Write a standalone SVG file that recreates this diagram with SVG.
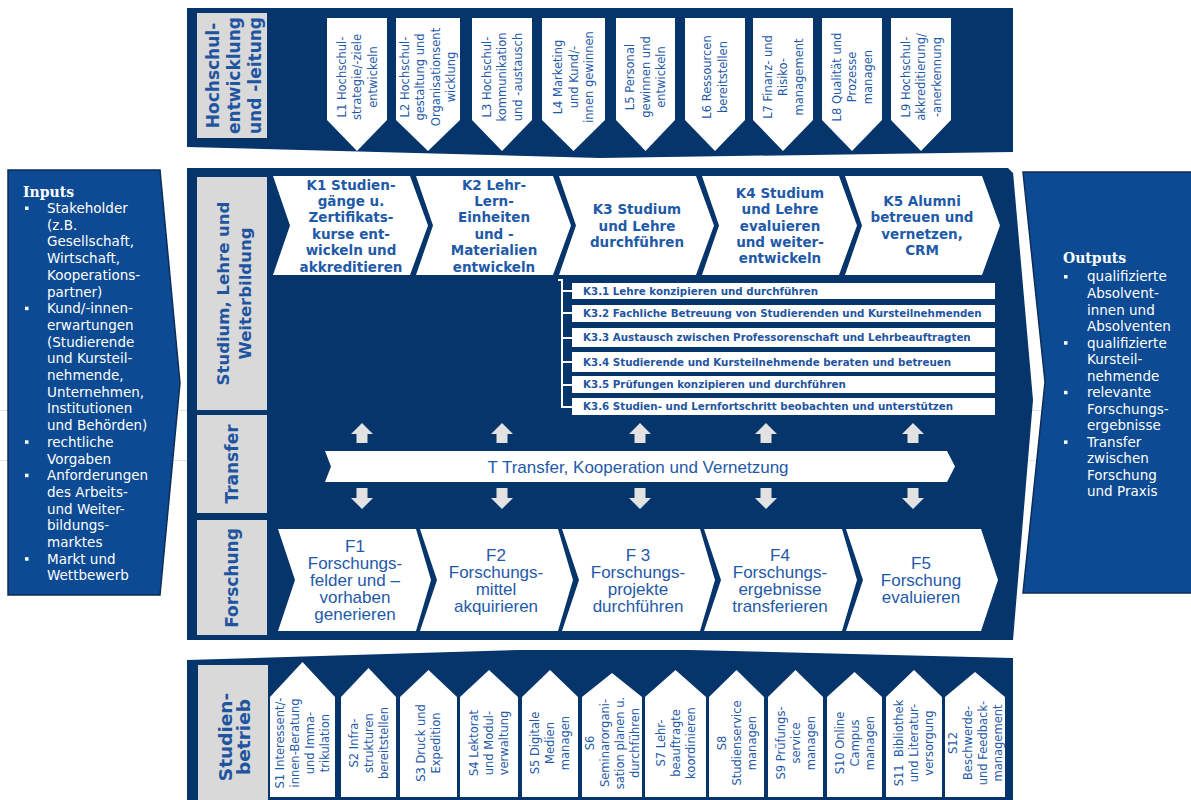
<svg xmlns="http://www.w3.org/2000/svg" width="1191" height="800" viewBox="0 0 1191 800">
<style>
.band{fill:#06356b}
.io{fill:#0c4a93;stroke:#0e2d57;stroke-width:1.5}
.gray{fill:#d9d9d9}
.wb{fill:#ffffff}
.arr{fill:#e2e2e2}
.lbl{font-family:"DejaVu Sans",Verdana,sans-serif;font-weight:bold;fill:#1f55a0;text-anchor:middle}
.sm{font-family:"DejaVu Sans",Verdana,sans-serif;font-size:11.5px;fill:#1f5aa8;text-anchor:middle}
.k{font-family:"DejaVu Sans",Verdana,sans-serif;font-weight:bold;font-size:13.5px;fill:#1f5aa8;text-anchor:middle}
.k3{font-family:"DejaVu Sans",Verdana,sans-serif;font-weight:bold;font-size:10.3px;fill:#1f55a0}
.f{font-family:"Liberation Sans",Arial,sans-serif;font-size:17px;fill:#1f5aa8;text-anchor:middle}
.iot{font-family:"DejaVu Sans",Verdana,sans-serif;font-size:13.5px;fill:#ffffff}
.ioh{font-family:"DejaVu Serif",Georgia,serif;font-weight:bold;font-size:14px;fill:#ffffff}
.bul{fill:#ffffff}
</style>
<rect x="0" y="0" width="1191" height="800" fill="#ffffff"/>
<line x1="0" y1="410.5" x2="1191" y2="410.5" stroke="#e3e3e3" stroke-width="1"/>
<line x1="0" y1="460.5" x2="1191" y2="460.5" stroke="#e3e3e3" stroke-width="1"/>

<!-- bands -->
<g id="band-top">
<polygon class="band" points="187,8 1013,8 1013,152 600,158 187,147"/>
<rect class="gray" x="197" y="13" width="70" height="125"/>
<text class="lbl" font-size="17" transform="translate(234,75.5) rotate(-90)"><tspan x="0" y="-15">Hochschul-</tspan><tspan x="0" y="6">entwicklung</tspan><tspan x="0" y="27">und -leitung</tspan></text>
</g>
<g id="band-main">
<polygon class="band" points="187,168 1008,168 1013,173 1013,172 1033,400 1013,640 187,640"/>
<rect class="gray" x="197" y="177" width="70" height="233"/>
<text class="lbl" font-size="16.5" transform="translate(234,293.5) rotate(-90)"><tspan x="0" y="-5">Studium, Lehre und</tspan><tspan x="0" y="17">Weiterbildung</tspan></text>
<rect class="gray" x="197" y="415" width="70" height="98"/>
<text class="lbl" font-size="17" transform="translate(232,464) rotate(-90)"><tspan x="0" y="6">Transfer</tspan></text>
<rect class="gray" x="197" y="520" width="70" height="115"/>
<text class="lbl" font-size="17" transform="translate(232,578) rotate(-90)"><tspan x="0" y="6">Forschung</tspan></text>
</g>
<g id="band-bottom">
<polygon class="band" points="187,660 520,650 690,650 1013,658 1013,800 187,800"/>
<rect class="gray" x="198" y="665" width="70" height="135"/>
<text class="lbl" font-size="18.5" transform="translate(234,737) rotate(-90)"><tspan x="0" y="-2.5">Studien-</tspan><tspan x="0" y="16">betrieb</tspan></text>
</g>

<!-- inputs / outputs -->
<g id="inputs">
<polygon class="io" points="8,170 160,170 180,383 160,595 8,595"/>
<text class="ioh" x="23" y="196.5">Inputs</text>
<g class="iot">
<text x="47" y="213">Stakeholder</text>
<text x="47" y="229.7">(z.B.</text>
<text x="47" y="246.4">Gesellschaft,</text>
<text x="47" y="263.1">Wirtschaft,</text>
<text x="47" y="279.8">Kooperations-</text>
<text x="47" y="296.5">partner)</text>
<text x="47" y="313.2">Kund/-innen-</text>
<text x="47" y="329.9">erwartungen</text>
<text x="47" y="346.6">(Studierende</text>
<text x="47" y="363.3">und Kursteil-</text>
<text x="47" y="380">nehmende,</text>
<text x="47" y="396.7">Unternehmen,</text>
<text x="47" y="413.4">Institutionen</text>
<text x="47" y="430.1">und Behörden)</text>
<text x="47" y="446.8">rechtliche</text>
<text x="47" y="463.5">Vorgaben</text>
<text x="47" y="480.2">Anforderungen</text>
<text x="47" y="496.9">des Arbeits-</text>
<text x="47" y="513.6">und Weiter-</text>
<text x="47" y="530.3">bildungs-</text>
<text x="47" y="547">marktes</text>
<text x="47" y="563.7">Markt und</text>
<text x="47" y="580.4">Wettbewerb</text>
</g>
<rect class="bul" x="25" y="206.5" width="3.5" height="3.5"/>
<rect class="bul" x="25" y="306.7" width="3.5" height="3.5"/>
<rect class="bul" x="25" y="440.3" width="3.5" height="3.5"/>
<rect class="bul" x="25" y="473.7" width="3.5" height="3.5"/>
<rect class="bul" x="25" y="557.2" width="3.5" height="3.5"/>
</g>
<g id="outputs">
<polygon class="io" points="1023,172 1195,172 1195,593 1023,593 1045,382"/>
<text class="ioh" x="1063" y="263">Outputs</text>
<g class="iot">
<text x="1087" y="281.4">qualifizierte</text>
<text x="1087" y="297.9">Absolvent-</text>
<text x="1087" y="314.5">innen und</text>
<text x="1087" y="331">Absolventen</text>
<text x="1087" y="347.6">qualifizierte</text>
<text x="1087" y="364.1">Kursteil-</text>
<text x="1087" y="380.6">nehmende</text>
<text x="1087" y="397.2">relevante</text>
<text x="1087" y="413.7">Forschungs-</text>
<text x="1087" y="430.3">ergebnisse</text>
<text x="1087" y="446.8">Transfer</text>
<text x="1087" y="463.4">zwischen</text>
<text x="1087" y="479.9">Forschung</text>
<text x="1087" y="496.4">und Praxis</text>
</g>
<rect class="bul" x="1064" y="275" width="3.5" height="3.5"/>
<rect class="bul" x="1064" y="341.2" width="3.5" height="3.5"/>
<rect class="bul" x="1064" y="390.8" width="3.5" height="3.5"/>
<rect class="bul" x="1064" y="440.4" width="3.5" height="3.5"/>
</g>

<!-- L nodes -->
<g id="L1"><polygon class="wb" points="327,18 387,18 387,120 357,151 327,120"/>
<text class="sm" transform="translate(357,77) rotate(-90)"><tspan x="0" y="-11.5">L1 Hochschul-</tspan><tspan x="0" y="4">strategie/-ziele</tspan><tspan x="0" y="19.5">entwickeln</tspan></text></g>
<g id="L2"><polygon class="wb" points="396,18 460,18 460,120 428,151 396,120"/>
<text class="sm" transform="translate(428,77) rotate(-90)"><tspan x="0" y="-19.2">L2 Hochschul-</tspan><tspan x="0" y="-3.7">gestaltung und</tspan><tspan x="0" y="11.7">Organisationsent</tspan><tspan x="0" y="27.2">wicklung</tspan></text></g>
<g id="L3"><polygon class="wb" points="472,18 532,18 532,120 502,151 472,120"/>
<text class="sm" transform="translate(502,77) rotate(-90)"><tspan x="0" y="-11.5">L3 Hochschul-</tspan><tspan x="0" y="4">kommunikation</tspan><tspan x="0" y="19.5">und -austausch</tspan></text></g>
<g id="L4"><polygon class="wb" points="542,18 605,18 605,120 573.5,151 542,120"/>
<text class="sm" transform="translate(573.5,77) rotate(-90)"><tspan x="0" y="-11.5">L4 Marketing</tspan><tspan x="0" y="4">und Kund/-</tspan><tspan x="0" y="19.5">innen gewinnen</tspan></text></g>
<g id="L5"><polygon class="wb" points="616,18 675,18 675,120 645.5,151 616,120"/>
<text class="sm" transform="translate(645.5,77) rotate(-90)"><tspan x="0" y="-11.5">L5 Personal</tspan><tspan x="0" y="4">gewinnen und</tspan><tspan x="0" y="19.5">entwickeln</tspan></text></g>
<g id="L6"><polygon class="wb" points="685,18 745,18 745,120 715,151 685,120"/>
<text class="sm" transform="translate(715,77) rotate(-90)"><tspan x="0" y="-3.7">L6 Ressourcen</tspan><tspan x="0" y="11.7">bereitstellen</tspan></text></g>
<g id="L7"><polygon class="wb" points="753,18 813,18 813,120 783,151 753,120"/>
<text class="sm" transform="translate(783,77) rotate(-90)"><tspan x="0" y="-11.5">L7 Finanz- und</tspan><tspan x="0" y="4">Risiko-</tspan><tspan x="0" y="19.5">management</tspan></text></g>
<g id="L8"><polygon class="wb" points="822,18 882,18 882,120 852,151 822,120"/>
<text class="sm" transform="translate(852,77) rotate(-90)"><tspan x="0" y="-11.5">L8 Qualität und</tspan><tspan x="0" y="4">Prozesse</tspan><tspan x="0" y="19.5">managen</tspan></text></g>
<g id="L9"><polygon class="wb" points="891,18 951,18 951,120 921,151 891,120"/>
<text class="sm" transform="translate(921,77) rotate(-90)"><tspan x="0" y="-11.5">L9 Hochschul-</tspan><tspan x="0" y="4">akkreditierung/</tspan><tspan x="0" y="19.5">-anerkennung</tspan></text></g>

<!-- K nodes -->
<g id="K1"><polygon class="wb" points="273,176 410,176 428,225.5 410,275 273,275 290,225.5"/>
<text class="k"><tspan x="351" y="189.5">K1 Studien-</tspan><tspan x="351" y="205.9">gänge u.</tspan><tspan x="351" y="222.3">Zertifikats-</tspan><tspan x="351" y="238.7">kurse ent-</tspan><tspan x="351" y="255.1">wickeln und</tspan><tspan x="351" y="271.5">akkreditieren</tspan></text></g>
<g id="K2"><polygon class="wb" points="416,176 553,176 571,225.5 553,275 416,275 433,225.5"/>
<text class="k"><tspan x="494" y="189.5">K2 Lehr-</tspan><tspan x="494" y="205.9">Lern-</tspan><tspan x="494" y="222.3">Einheiten</tspan><tspan x="494" y="238.7">und -</tspan><tspan x="494" y="255.1">Materialien</tspan><tspan x="494" y="271.5">entwickeln</tspan></text></g>
<g id="K3"><polygon class="wb" points="559,176 696,176 714,225.5 696,275 559,275 576,225.5"/>
<text class="k"><tspan x="637" y="214.1">K3 Studium</tspan><tspan x="637" y="230.5">und Lehre</tspan><tspan x="637" y="246.9">durchführen</tspan></text></g>
<g id="K4"><polygon class="wb" points="702,176 839,176 857,225.5 839,275 702,275 719,225.5"/>
<text class="k"><tspan x="780" y="197.7">K4 Studium</tspan><tspan x="780" y="214.1">und Lehre</tspan><tspan x="780" y="230.5">evaluieren</tspan><tspan x="780" y="246.9">und weiter-</tspan><tspan x="780" y="263.3">entwickeln</tspan></text></g>
<g id="K5"><polygon class="wb" points="845,176 982,176 1000,225.5 982,275 845,275 862,225.5"/>
<text class="k"><tspan x="922" y="205.9">K5 Alumni</tspan><tspan x="922" y="222.3">betreuen und</tspan><tspan x="922" y="238.7">vernetzen,</tspan><tspan x="922" y="255.1">CRM</tspan></text></g>

<!-- K3 sub-processes -->
<g id="K3-list">
<rect class="wb" x="572" y="283" width="423" height="16"/>
<text class="k3" x="583" y="294.5">K3.1 Lehre konzipieren und durchführen</text>
<rect class="wb" x="572" y="305" width="423" height="17"/>
<text class="k3" x="583" y="317">K3.2 Fachliche Betreuung von Studierenden und Kursteilnehmenden</text>
<rect class="wb" x="572" y="328" width="423" height="19"/>
<text class="k3" x="583" y="341">K3.3 Austausch zwischen Professorenschaft und Lehrbeauftragten</text>
<rect class="wb" x="572" y="352" width="423" height="20"/>
<text class="k3" x="583" y="365.5">K3.4 Studierende und Kursteilnehmende beraten und betreuen</text>
<rect class="wb" x="572" y="376" width="423" height="17"/>
<text class="k3" x="583" y="388">K3.5 Prüfungen konzipieren und durchführen</text>
<rect class="wb" x="572" y="398" width="423" height="17"/>
<text class="k3" x="583" y="410">K3.6 Studien- und Lernfortschritt beobachten und unterstützen</text>
</g>

<!-- connectors -->
<g id="connectors">
<path d="M558,280 H562 V407 H572 M562,291 H572 M562,313 H572 M562,338 H572 M562,362 H572 M562,385 H572" fill="none" stroke="#ffffff" stroke-width="2"/>
<g class="arr">
<polygon points="362,423 373,434 367.5,434 367.5,443 356.5,443 356.5,434 351,434"/>
<polygon points="502,423 513,434 507.5,434 507.5,443 496.5,443 496.5,434 491,434"/>
<polygon points="640,423 651,434 645.5,434 645.5,443 634.5,443 634.5,434 629,434"/>
<polygon points="766,423 777,434 771.5,434 771.5,443 760.5,443 760.5,434 755,434"/>
<polygon points="913,423 924,434 918.5,434 918.5,443 907.5,443 907.5,434 902,434"/>
<polygon points="356.5,488 367.5,488 367.5,498 373,498 362,509 351,498 356.5,498"/>
<polygon points="496.5,488 507.5,488 507.5,498 513,498 502,509 491,498 496.5,498"/>
<polygon points="634.5,488 645.5,488 645.5,498 651,498 640,509 629,498 634.5,498"/>
<polygon points="760.5,488 771.5,488 771.5,498 777,498 766,509 755,498 760.5,498"/>
<polygon points="907.5,488 918.5,488 918.5,498 924,498 913,509 902,498 907.5,498"/>
</g>
</g>

<!-- T node -->
<g id="T">
<polygon class="wb" points="325,451 947,451 955,466.5 947,482 325,482 331,466.5"/>
<text class="f" x="638" y="472.5">T Transfer, Kooperation und Vernetzung</text>
</g>

<!-- F nodes -->
<g id="F1"><polygon class="wb" points="278,529 416,529 431,580 416,631 278,631 295,580"/>
<text class="f"><tspan x="355" y="552">F1</tspan><tspan x="355" y="569">Forschungs-</tspan><tspan x="355" y="586">felder und –</tspan><tspan x="355" y="603">vorhaben</tspan><tspan x="355" y="620">generieren</tspan></text></g>
<g id="F2"><polygon class="wb" points="420,529 558,529 573,580 558,631 420,631 437,580"/>
<text class="f"><tspan x="496" y="560.5">F2</tspan><tspan x="496" y="577.5">Forschungs-</tspan><tspan x="496" y="594.5">mittel</tspan><tspan x="496" y="611.5">akquirieren</tspan></text></g>
<g id="F3"><polygon class="wb" points="562,529 700,529 715,580 700,631 562,631 579,580"/>
<text class="f"><tspan x="638" y="560.5">F 3</tspan><tspan x="638" y="577.5">Forschungs-</tspan><tspan x="638" y="594.5">projekte</tspan><tspan x="638" y="611.5">durchführen</tspan></text></g>
<g id="F4"><polygon class="wb" points="704,529 842,529 857,580 842,631 704,631 721,580"/>
<text class="f"><tspan x="780" y="560.5">F4</tspan><tspan x="780" y="577.5">Forschungs-</tspan><tspan x="780" y="594.5">ergebnisse</tspan><tspan x="780" y="611.5">transferieren</tspan></text></g>
<g id="F5"><polygon class="wb" points="846,529 981,529 998,580 981,631 846,631 863,580"/>
<text class="f"><tspan x="921" y="569">F5</tspan><tspan x="921" y="586">Forschung</tspan><tspan x="921" y="603">evaluieren</tspan></text></g>

<!-- S nodes -->
<g id="S1"><polygon class="wb" points="270,697 302.5,662 335,697 335,797 270,797"/>
<text class="sm" transform="translate(302.5,743) rotate(-90)"><tspan x="0" y="-18.5">S1 Interessent/-</tspan><tspan x="0" y="-3.5">innen-Beratung</tspan><tspan x="0" y="11.5">und Imma-</tspan><tspan x="0" y="26.5">trikulation</tspan></text></g>
<g id="S2"><polygon class="wb" points="341,697 368.5,668 396,697 396,797 341,797"/>
<text class="sm" transform="translate(368.5,743) rotate(-90)"><tspan x="0" y="-11">S2 Infra-</tspan><tspan x="0" y="4">strukturen</tspan><tspan x="0" y="19">bereitstellen</tspan></text></g>
<g id="S3"><polygon class="wb" points="400,697 428.5,670 457,697 457,797 400,797"/>
<text class="sm" transform="translate(428.5,743) rotate(-90)"><tspan x="0" y="-3.5">S3 Druck und</tspan><tspan x="0" y="11.5">Expedition</tspan></text></g>
<g id="S4"><polygon class="wb" points="460,697 489,670 518,697 518,797 460,797"/>
<text class="sm" transform="translate(489,743) rotate(-90)"><tspan x="0" y="-11">S4 Lektorat</tspan><tspan x="0" y="4">und Modul-</tspan><tspan x="0" y="19">verwaltung</tspan></text></g>
<g id="S5"><polygon class="wb" points="522,697 550,670 578,697 578,797 522,797"/>
<text class="sm" transform="translate(550,743) rotate(-90)"><tspan x="0" y="-11">S5 Digitale</tspan><tspan x="0" y="4">Medien</tspan><tspan x="0" y="19">managen</tspan></text></g>
<g id="S6"><polygon class="wb" points="582,697 612,673 642,697 642,797 582,797"/>
<text class="sm" transform="translate(612,743) rotate(-90)"><tspan x="0" y="-18.5">S6</tspan><tspan x="0" y="-3.5">Seminarorgani-</tspan><tspan x="0" y="11.5">sation planen u.</tspan><tspan x="0" y="26.5">durchführen</tspan></text></g>
<g id="S7"><polygon class="wb" points="645,697 675.5,670 706,697 706,797 645,797"/>
<text class="sm" transform="translate(675.5,743) rotate(-90)"><tspan x="0" y="-11">S7 Lehr-</tspan><tspan x="0" y="4">beauftragte</tspan><tspan x="0" y="19">koordinieren</tspan></text></g>
<g id="S8"><polygon class="wb" points="709,697 736.5,670 764,697 764,797 709,797"/>
<text class="sm" transform="translate(736.5,743) rotate(-90)"><tspan x="0" y="-11">S8</tspan><tspan x="0" y="4">Studienservice</tspan><tspan x="0" y="19">managen</tspan></text></g>
<g id="S9"><polygon class="wb" points="768,697 795.5,670 823,697 823,797 768,797"/>
<text class="sm" transform="translate(795.5,743) rotate(-90)"><tspan x="0" y="-11">S9 Prüfungs-</tspan><tspan x="0" y="4">service</tspan><tspan x="0" y="19">managen</tspan></text></g>
<g id="S10"><polygon class="wb" points="827,697 854.5,672 882,697 882,797 827,797"/>
<text class="sm" transform="translate(854.5,743) rotate(-90)"><tspan x="0" y="-11">S10 Online</tspan><tspan x="0" y="4">Campus</tspan><tspan x="0" y="19">managen</tspan></text></g>
<g id="S11"><polygon class="wb" points="886,697 914,670 942,697 942,797 886,797"/>
<text class="sm" transform="translate(914,743) rotate(-90)"><tspan x="0" y="-11" xml:space="preserve">S11  Bibliothek</tspan><tspan x="0" y="4">und Literatur-</tspan><tspan x="0" y="19">versorgung</tspan></text></g>
<g id="S12"><polygon class="wb" points="945,697 975,672 1005,697 1005,797 945,797"/>
<text class="sm" transform="translate(975,743) rotate(-90)"><tspan x="0" y="-18.5">S12</tspan><tspan x="0" y="-3.5">Beschwerde-</tspan><tspan x="0" y="11.5">und Feedback-</tspan><tspan x="0" y="26.5">management</tspan></text></g>
</svg>
